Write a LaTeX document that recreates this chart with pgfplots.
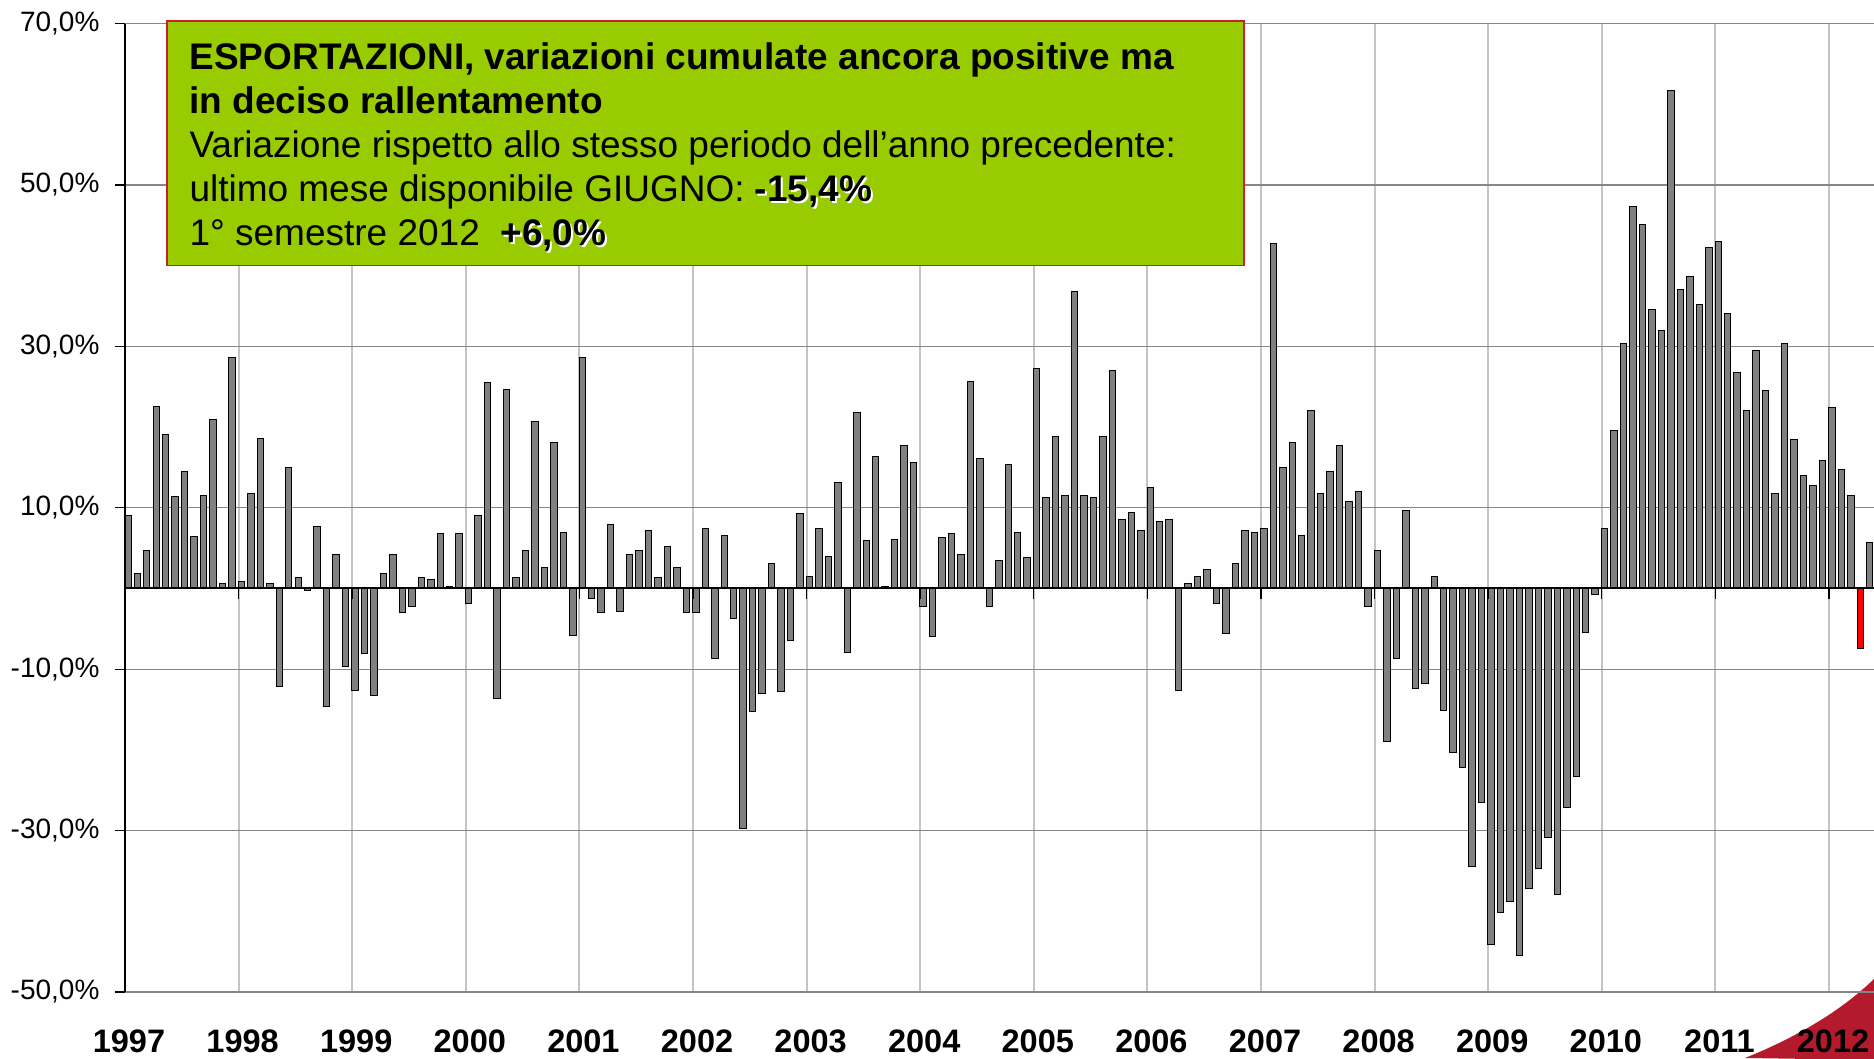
\documentclass[border=0pt]{standalone}
\usepackage{pgfplots}
\pgfplotsset{compat=1.18}
\usepackage{fontspec}
\setmainfont{Liberation Sans}

\definecolor{barfill}{HTML}{808080}
\definecolor{gridy}{HTML}{868686}
\definecolor{gridx}{HTML}{C4C4C4}
\definecolor{boxgreen}{HTML}{99CC00}
\definecolor{boxborder}{HTML}{C8202E}
\definecolor{swoosh}{HTML}{B31B2C}

% bold text with a small white shadow, as in the box
\newcommand\shadowtext[1]{\makebox[0pt][l]{\hspace{0.8pt}\raisebox{-0.8pt}{\textcolor{white}{#1}}}#1}

\begin{document}
\begin{tikzpicture}
\path[use as bounding box] (0,0) rectangle (749.6pt,423.2pt);

% red corner decoration (pixel coordinates, origin top left)
\begin{scope}[shift={(0pt,423.2pt)}, x=0.4pt, y=-0.4pt]
\fill[swoosh] (1745,1058) .. controls (1800,1036) and (1845,1008) .. (1876,977) -- (1876,1060) -- cycle;
\end{scope}

\begin{axis}[
    at={(50pt,26.44pt)}, anchor=south west,
    scale only axis,
    width=699.6pt, height=387.32pt,
    xmin=-0.3, xmax=184.45,
    ymin=-50, ymax=70,
    axis line style={draw=none},
    xtick={-0.3,11.7,...,179.7},
    xticklabels={1997,1998,1999,2000,2001,2002,2003,2004,2005,2006,2007,2008,2009,2010,2011,2012},
    xtick style={draw=none},
    ytick={-50,-30,...,70},
    ytick pos=left,
    tick align=outside,
    major tick length=4pt,
    ytick style={black, line width=0.5pt},
    xmajorgrids, ymajorgrids,
    x grid style={gridx, line width=0.8pt},
    y grid style={gridy, line width=0.5pt},
    /pgf/number format/assume math mode=true,
    yticklabel={\pgfmathprintnumber[fixed,fixed zerofill,precision=1,use comma]{\tick}\%},
    yticklabel style={font=\fontsize{11.2}{13}\selectfont, xshift=-2.7pt},
    xticklabel style={font=\fontsize{13}{15}\selectfont\bfseries, yshift=-7.8pt, xshift=1.6pt},
    clip=false,
]
% monthly changes, Jan 1997 = 0
\addplot[ybar, bar width=0.68, bar shift=0pt, fill=barfill, draw=black, line width=0.4pt] coordinates {
(0,9.0) (1,1.8) (2,4.7) (3,22.5) (4,19.1) (5,11.4) (6,14.5) (7,6.4) (8,11.5) (9,20.9) (10,0.6) (11,28.6)
(12,0.8) (13,11.8) (14,18.6) (15,0.6) (16,-12.2) (17,15.0) (18,1.3) (19,-0.2) (20,7.7) (21,-14.6) (22,4.2) (23,-9.7)
(24,-12.6) (25,-8.1) (26,-13.3) (27,1.8) (28,4.2) (29,-3.0) (30,-2.2) (31,1.3) (32,1.1) (33,6.8) (34,0.2) (35,6.8)
(36,-1.9) (37,9.0) (38,25.5) (39,-13.7) (40,24.7) (41,1.3) (42,4.7) (43,20.7) (44,2.6) (45,18.1) (46,6.9) (47,-5.8)
(48,28.6) (49,-1.3) (50,-3.0) (51,7.9) (52,-2.8) (53,4.2) (54,4.7) (55,7.2) (56,1.3) (57,5.2) (58,2.6) (59,-3.0)
(60,-3.0) (61,7.4) (62,-8.7) (63,6.5) (64,-3.7) (65,-29.7) (66,-15.3) (67,-13.0) (68,3.1) (69,-12.8) (70,-6.4) (71,9.3)
(72,1.5) (73,7.4) (74,3.9) (75,13.1) (76,-7.9) (77,21.8) (78,5.9) (79,16.3) (80,0.2) (81,6.1) (82,17.7) (83,15.6)
(84,-2.2) (85,-6.0) (86,6.3) (87,6.8) (88,4.2) (89,25.7) (90,16.1) (91,-2.2) (92,3.5) (93,15.4) (94,6.9) (95,3.8)
(96,27.3) (97,11.3) (98,18.8) (99,11.5) (100,36.8) (101,11.5) (102,11.3) (103,18.8) (104,27.0) (105,8.5) (106,9.4) (107,7.2)
(108,12.5) (109,8.3) (110,8.5) (111,-12.6) (112,0.6) (113,1.5) (114,2.4) (115,-1.9) (116,-5.6) (117,3.1) (118,7.2) (119,6.9)
(120,7.4) (121,42.7) (122,15.0) (123,18.1) (124,6.5) (125,22.1) (126,11.8) (127,14.5) (128,17.7) (129,10.8) (130,12.0) (131,-2.3)
(132,4.7) (133,-19.0) (134,-8.7) (135,9.7) (136,-12.4) (137,-11.8) (138,1.5) (139,-15.1) (140,-20.3) (141,-22.2) (142,-34.4) (143,-26.5)
(144,-44.1) (145,-40.2) (146,-38.8) (147,-45.5) (148,-37.2) (149,-34.7) (150,-30.9) (151,-37.9) (152,-27.2) (153,-23.3) (154,-5.4) (155,-0.8)
(156,7.4) (157,19.6) (158,30.3) (159,47.3) (160,45.1) (161,34.6) (162,32.0) (163,61.7) (164,37.0) (165,38.6) (166,35.2) (167,42.2)
(168,43.0) (169,34.1) (170,26.8) (171,22.1) (172,29.5) (173,24.5) (174,11.8) (175,30.3) (176,18.4) (177,14.0) (178,12.7) (179,15.9)
(180,22.4) (181,14.7) (182,11.5) (184,5.7)
};
% last month, in red
\addplot[ybar, bar width=0.68, bar shift=0pt, fill=red, draw=black, line width=0.4pt] coordinates {(183,-7.4)};

% axis lines drawn over the bars
\draw[black, line width=0.8pt] (axis cs:-0.3,0) -- (axis cs:184.45,0);
\draw[black, line width=0.5pt]
  (axis cs:11.7,0) -- (axis cs:11.7,-1.3)   (axis cs:23.7,0) -- (axis cs:23.7,-1.3)
  (axis cs:35.7,0) -- (axis cs:35.7,-1.3)   (axis cs:47.7,0) -- (axis cs:47.7,-1.3)
  (axis cs:59.7,0) -- (axis cs:59.7,-1.3)   (axis cs:71.7,0) -- (axis cs:71.7,-1.3)
  (axis cs:83.7,0) -- (axis cs:83.7,-1.3)   (axis cs:95.7,0) -- (axis cs:95.7,-1.3)
  (axis cs:107.7,0) -- (axis cs:107.7,-1.3) (axis cs:119.7,0) -- (axis cs:119.7,-1.3)
  (axis cs:131.7,0) -- (axis cs:131.7,-1.3) (axis cs:143.7,0) -- (axis cs:143.7,-1.3)
  (axis cs:155.7,0) -- (axis cs:155.7,-1.3) (axis cs:167.7,0) -- (axis cs:167.7,-1.3)
  (axis cs:179.7,0) -- (axis cs:179.7,-1.3);
\draw[black, line width=0.8pt] (axis cs:-0.3,-50) -- (axis cs:-0.3,70);
\end{axis}

% text box (pixel coordinates, origin top left)
\begin{scope}[shift={(0pt,423.2pt)}, x=0.4pt, y=-0.4pt]
\draw[boxborder, line width=0.5pt, fill=boxgreen] (167,21) rectangle (1244,265.7);
\begin{scope}[every node/.style={anchor=base west, inner sep=0pt, font=\fontsize{14.8}{17}\selectfont}]
\node at (189,70) {\bfseries ESPORTAZIONI, variazioni cumulate ancora positive ma};
\node at (189,114) {\bfseries in deciso rallentamento};
\node at (189,158) {Variazione rispetto allo stesso periodo dell’anno precedente:};
\node at (189,202) {ultimo mese disponibile GIUGNO: \textbf{\shadowtext{-15,4\%}}};
\node at (189,246) {1° semestre 2012\ \ \textbf{\shadowtext{+6,0\%}}};
\end{scope}
\end{scope}
\end{tikzpicture}
\end{document}
